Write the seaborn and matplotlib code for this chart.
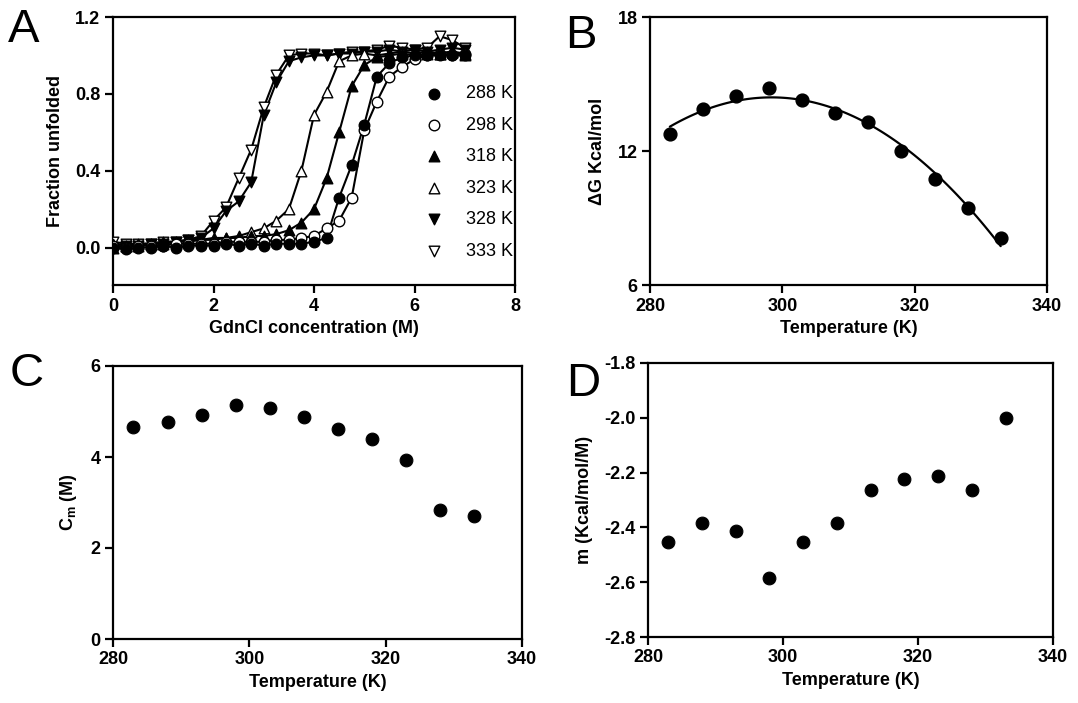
import numpy as np
import pandas as pd
import matplotlib
matplotlib.use("Agg")
import matplotlib.pyplot as plt
import seaborn as sns

# ---------------- data ----------------
conc = [0.0, 0.25, 0.5, 0.75, 1.0, 1.25, 1.5, 1.75, 2.0, 2.25, 2.5, 2.75, 3.0, 3.25,
        3.5, 3.75, 4.0, 4.25, 4.5, 4.75, 5.0, 5.25, 5.5, 5.75, 6.0, 6.25, 6.5, 6.75, 7.0]

f288 = [0.00, -0.01, 0.00, 0.00, 0.01, 0.00, 0.01, 0.01, 0.01, 0.02, 0.01, 0.02, 0.01, 0.02,
        0.02, 0.02, 0.03, 0.05, 0.26, 0.43, 0.64, 0.89, 0.96, 0.99, 1.00, 1.00, 1.00, 1.00, 1.00]
f298 = [0.01, 0.00, 0.01, 0.01, 0.01, 0.02, 0.02, 0.02, 0.02, 0.03, 0.03, 0.03, 0.03, 0.04,
        0.04, 0.05, 0.06, 0.10, 0.14, 0.26, 0.61, 0.76, 0.89, 0.94, 0.98, 1.00, 1.01, 1.00, 1.01]
f318 = [0.00, 0.01, 0.01, 0.02, 0.02, 0.03, 0.03, 0.04, 0.04, 0.05, 0.05, 0.06, 0.06, 0.07,
        0.09, 0.13, 0.20, 0.36, 0.60, 0.84, 0.95, 0.99, 1.00, 1.01, 1.00, 1.01, 1.01, 1.02, 1.00]
f323 = [0.02, 0.01, 0.02, 0.02, 0.03, 0.03, 0.04, 0.04, 0.05, 0.05, 0.06, 0.08, 0.10, 0.14,
        0.20, 0.40, 0.69, 0.81, 0.97, 1.00, 1.01, 1.00, 1.01, 1.02, 1.01, 1.02, 1.01, 1.02, 1.01]
f328 = [0.00, 0.01, 0.01, 0.02, 0.02, 0.03, 0.04, 0.05, 0.10, 0.19, 0.24, 0.34, 0.69, 0.86,
        0.97, 0.99, 1.00, 1.00, 1.01, 1.01, 1.02, 1.02, 1.03, 1.02, 1.03, 1.02, 1.03, 1.04, 1.03]
f333 = [0.03, 0.02, 0.02, 0.02, 0.03, 0.03, 0.04, 0.06, 0.14, 0.21, 0.36, 0.51, 0.73, 0.90,
        1.00, 1.01, 1.01, 1.00, 1.01, 1.02, 1.02, 1.03, 1.05, 1.04, 1.03, 1.04, 1.10, 1.08, 1.04]

series_labels = ["288 K", "298 K", "318 K", "323 K", "328 K", "333 K"]

temps = [283, 288, 293, 298, 303, 308, 313, 318, 323, 328, 333]
dG = [12.75, 13.87, 14.47, 14.82, 14.27, 13.72, 13.30, 12.01, 10.74, 9.43, 8.09]
cm = [4.65, 4.78, 4.92, 5.14, 5.07, 4.87, 4.62, 4.39, 3.94, 2.83, 2.71]
mval = [-2.454, -2.383, -2.414, -2.585, -2.454, -2.383, -2.262, -2.222, -2.212, -2.262, -2.002]

# ---------------- style ----------------
sns.set_style("ticks")
plt.rcParams["font.family"] = ["Liberation Sans", "DejaVu Sans"]
plt.rcParams["axes.linewidth"] = 1.6
plt.rcParams["text.color"] = "black"
plt.rcParams["axes.labelcolor"] = "black"
plt.rcParams["xtick.color"] = "black"
plt.rcParams["ytick.color"] = "black"
plt.rcParams["mathtext.fontset"] = "custom"
plt.rcParams["mathtext.rm"] = "Liberation Sans:bold"
plt.rcParams["mathtext.it"] = "Liberation Sans:bold"
plt.rcParams["mathtext.bf"] = "Liberation Sans:bold"

W, H = 1078, 703
fig = plt.figure(figsize=(W / 100, H / 100), dpi=100)


def add_ax(l, r, t, b):
    return fig.add_axes([l / W, 1 - b / H, (r - l) / W, (b - t) / H])


axA = add_ax(113, 515, 17, 285)
axB = add_ax(650, 1047, 17, 285)
axC = add_ax(113, 522, 366, 639)
axD = add_ax(648, 1053, 363, 637)

TICKFS = 13
LABFS = 13


def style(ax):
    for s in ax.spines.values():
        s.set_linewidth(1.6)
        s.set_color("black")
        s.set_visible(True)
    ax.tick_params(axis="both", which="both", direction="out", length=6, width=1.6,
                   color="black", labelcolor="black", labelsize=TICKFS, pad=3,
                   top=False, right=False)
    for lab in ax.get_xticklabels() + ax.get_yticklabels():
        lab.set_fontweight("bold")


# ---------------- panel A ----------------
specs = {
    "288 K": (f288, "o", "black"),
    "298 K": (f298, "o", "white"),
    "318 K": (f318, "^", "black"),
    "323 K": (f323, "^", "white"),
    "328 K": (f328, "v", "black"),
    "333 K": (f333, "v", "white"),
}
for lab in ["333 K", "328 K", "323 K", "318 K", "298 K", "288 K"]:
    vals, mk, fc = specs[lab]
    sns.lineplot(x=conc, y=vals, ax=axA, color="black", lw=1.5, zorder=2)
    sns.scatterplot(x=conc, y=vals, ax=axA, marker=mk, s=58, color=fc,
                    edgecolor="black", linewidth=1.0, zorder=3, label=lab)
axA.set_xlim(0, 8)
axA.set_ylim(-0.195, 1.2)
axA.set_xticks([0, 2, 4, 6, 8])
axA.set_yticks([0.0, 0.4, 0.8, 1.2])
axA.set_yticklabels(["0.0", "0.4", "0.8", "1.2"])
axA.set_xlabel("GdnCl concentration (M)", fontsize=LABFS, fontweight="bold", labelpad=4)
axA.set_ylabel("Fraction unfolded", fontsize=LABFS, fontweight="bold", labelpad=8)
h, l = axA.get_legend_handles_labels()
order = [l.index(x) for x in series_labels]
leg = axA.legend([h[i] for i in order], [l[i] for i in order], loc="center right",
                 bbox_to_anchor=(1.0, 0.42), frameon=False, fontsize=13,
                 handlelength=1.0, handletextpad=1.3, labelspacing=0.8, borderpad=0.0,
                 borderaxespad=0.1)
for t in leg.get_texts():
    t.set_color("black")
style(axA)

# ---------------- panel B ----------------
sns.regplot(x=temps, y=dG, ax=axB, order=2, ci=None, color="black",
            scatter_kws={"s": 85, "color": "black", "alpha": 1.0, "zorder": 3,
                         "edgecolor": "black"},
            line_kws={"lw": 1.6, "color": "black"})
axB.set_xlim(280, 340)
axB.set_ylim(6, 18)
axB.set_xticks([280, 300, 320, 340])
axB.set_yticks([6, 12, 18])
axB.set_xlabel("Temperature (K)", fontsize=LABFS, fontweight="bold", labelpad=4)
axB.set_ylabel("ΔG Kcal/mol", fontsize=LABFS, fontweight="bold", labelpad=8)
style(axB)

# ---------------- panel C ----------------
sns.scatterplot(x=temps, y=cm, ax=axC, s=85, color="black", edgecolor="black")
axC.set_xlim(280, 340)
axC.set_ylim(0, 6)
axC.set_xticks([280, 300, 320, 340])
axC.set_yticks([0, 2, 4, 6])
axC.set_xlabel("Temperature (K)", fontsize=LABFS, fontweight="bold", labelpad=4)
axC.set_ylabel("C$_\\mathregular{m}$ (M)", fontsize=LABFS, fontweight="bold", labelpad=8)
style(axC)

# ---------------- panel D ----------------
sns.scatterplot(x=temps, y=mval, ax=axD, s=85, color="black", edgecolor="black")
axD.set_xlim(280, 340)
axD.set_ylim(-2.8, -1.8)
axD.set_xticks([280, 300, 320, 340])
axD.set_yticks([-2.8, -2.6, -2.4, -2.2, -2.0, -1.8])
axD.set_yticklabels(["-2.8", "-2.6", "-2.4", "-2.2", "-2.0", "-1.8"])
axD.set_xlabel("Temperature (K)", fontsize=LABFS, fontweight="bold", labelpad=4)
axD.set_ylabel("m (Kcal/mol/M)", fontsize=LABFS, fontweight="bold", labelpad=8)
style(axD)

# ---------------- panel letters ----------------
for txt, x, y in [("A", 8, 8), ("B", 565, 14), ("C", 10, 352), ("D", 566, 362)]:
    fig.text(x / W, 1 - y / H, txt, fontsize=34, ha="left", va="top", color="black")

fig.savefig("out.png", dpi=100)
